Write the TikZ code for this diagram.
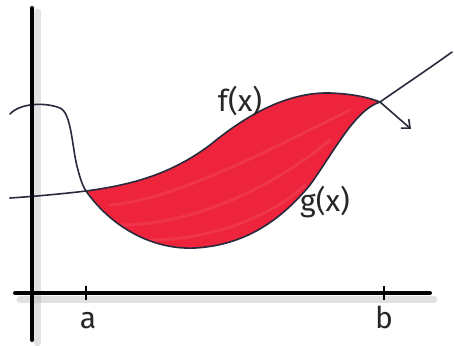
\documentclass[tikz,border=0pt]{standalone}
\usepackage{fontspec}
\setmainfont{Fira Sans}
\usetikzlibrary{arrows.meta}
\definecolor{areared}{RGB}{238,36,60}
\definecolor{curvegray}{RGB}{40,42,60}
\definecolor{shadowgray}{RGB}{170,170,170}
\begin{document}
\begin{tikzpicture}[x=1pt,y=-1pt,
  axisline/.style={line width=4pt,black,line cap=round},
  axisshadow/.style={line width=7pt,shadowgray,opacity=0.35,line cap=round},
  curve/.style={line width=1.6pt,curvegray,line cap=round},
  lbl/.style={font=\fontsize{30}{34}\selectfont,text=black!85,inner sep=0pt}]
\useasboundingbox (0,0) rectangle (454,345);
% shadows of axes
\draw[axisshadow] (37,12) -- (37,343);
\draw[axisshadow] (20,299) -- (434,299);
% filled region between f and g
\fill[areared] (86,191) .. controls (130,185) and (170,175) .. (210,145)
  .. controls (250,112) and (290,92) .. (330,93)
  .. controls (355,94) and (370,98) .. (380,102)
  .. controls (355,110) and (335,150) .. (310,185)
  .. controls (285,215) and (250,245) .. (195,248)
  .. controls (150,250) and (110,225) .. (86,191) -- cycle;
% lighter strokes inside
\begin{scope}[line width=3pt,white,opacity=0.08,line cap=round]
\draw (110,205) .. controls (170,200) and (250,160) .. (350,110);
\draw (120,225) .. controls (190,225) and (270,190) .. (330,140);
\draw (150,240) .. controls (220,240) and (280,210) .. (305,185);
\end{scope}
% f(x): upper curve
\draw[curve] (10,198) .. controls (40,196) and (70,193) .. (86,191)
  .. controls (130,185) and (170,175) .. (210,145)
  .. controls (250,112) and (290,92) .. (330,93)
  .. controls (355,94) and (370,98) .. (380,102)
  .. controls (400,88) and (430,68) .. (452,52);
% g(x): lower curve
\draw[curve] (10,114) .. controls (20,103) and (45,102) .. (60,108)
  .. controls (72,113) and (72,150) .. (78,170)
  .. controls (81,182) and (84,188) .. (86,191)
  .. controls (110,225) and (150,250) .. (195,248)
  .. controls (250,245) and (285,215) .. (310,185)
  .. controls (335,150) and (355,110) .. (380,102);
\coordinate (B) at (380,102);
\coordinate (arrowend) at (411,129);
\draw[curve,-{Straight Barb[length=7pt,width=12pt,line width=1.6pt]}] (B) -- (arrowend);
% axes
\draw[axisline] (32,8) -- (32,340);
\draw[axisline] (15,293) -- (430,293);
% ticks
\draw[line width=2pt] (86,286) -- (86,300);
\draw[line width=2pt] (384,286) -- (384,300);
% labels
\node[lbl] (la) at (88,321) {a};
\node[lbl] (lb) at (384,317) {b};
\node[lbl] (lf) at (240,101) {f(x)};
\node[lbl] (lg) at (325,202) {g(x)};
\end{tikzpicture}
\end{document}
